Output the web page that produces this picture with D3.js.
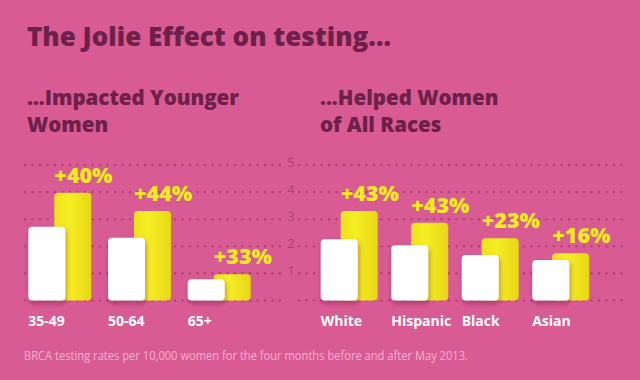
<!DOCTYPE html>
<html><head><meta charset="utf-8">
<script src="https://cdn.jsdelivr.net/npm/d3@7/dist/d3.min.js"></script>
<style>html,body{margin:0;padding:0;background:#d95b93;}svg{display:block;}</style>
</head><body>
<svg id="c" width="640" height="380"></svg>
<script>
// ---- data ----
const ageCategories = ["35-49", "50-64", "65+"];
const ageBefore = [2.72, 2.32, 0.78];
const ageAfter = [3.98, 3.30, 0.97];
const ageChange = ["+40%", "+44%", "+33%"];

const raceCategories = ["White", "Hispanic", "Black", "Asian"];
const raceBefore = [2.26, 2.04, 1.68, 1.49];
const raceAfter = [3.30, 2.87, 2.30, 1.74];
const raceChange = ["+43%", "+43%", "+23%", "+16%"];

const tickValues = [0, 1, 2, 3, 4, 5];
const tickLabels = ["", "1", "2", "3", "4", "5"];

const titleText = "The Jolie Effect on testing...";
const leftSubtitle = ["...Impacted Younger", "Women"];
const rightSubtitle = ["...Helped Women", "of All Races"];
const footerText = "BRCA testing rates per 10,000 women for the four months before and after May 2013.";

// ---- drawing ----
const svg = d3.select("#c");
const bg = "#d95b93", dark = "#6d2049", yellow = "#f4ea1e", gridCol = "#b0447a";
const heading = "'Open Sans', Lato, sans-serif";

svg.append("rect").attr("width", 640).attr("height", 380).attr("fill", bg);

const defs = svg.append("defs");
const f = defs.append("filter").attr("id", "sh").attr("x", "-30%").attr("y", "-30%").attr("width", "160%").attr("height", "160%");
f.append("feDropShadow").attr("dx", 1).attr("dy", 3).attr("stdDeviation", 2.5)
  .attr("flood-color", "#6a1a40").attr("flood-opacity", 0.45);
const g = defs.append("linearGradient").attr("id", "yg").attr("x1", 0).attr("x2", 1).attr("y1", 0).attr("y2", 0);
g.append("stop").attr("offset", "0%").attr("stop-color", "#efe31a");
g.append("stop").attr("offset", "40%").attr("stop-color", "#f6ee24");
g.append("stop").attr("offset", "100%").attr("stop-color", "#e6d716");

const y = d3.scaleLinear().domain([0, 5]).range([300.5, 165]);

// gridlines
const grid = svg.append("g");
tickValues.forEach((v, i) => {
  [[25, 283], [299, 628]].forEach(([a, b]) => {
    grid.append("line").attr("x1", a).attr("x2", b).attr("y1", y(v)).attr("y2", y(v))
      .attr("stroke", gridCol).attr("stroke-width", 2.6).attr("stroke-linecap", "round")
      .attr("stroke-dasharray", "0 7.5");
  });
  grid.append("text").attr("x", 291).attr("y", y(v) + 2).attr("text-anchor", "middle")
    .attr("font-family", "'Open Sans', sans-serif").attr("font-size", 13).attr("font-weight", 400)
    .attr("fill", "#a9447a").text(tickLabels[i]);
});

function panel(cats, before, after, change, x0, step, offset) {
  const x = d3.scaleBand().domain(cats).range([x0, x0 + step * cats.length]).paddingInner(0).paddingOuter(0);
  const bw = 37;
  const gp = svg.append("g");
  const data = cats.map((c, i) => ({c, b: before[i], a: after[i], t: change[i]}));
  gp.selectAll("rect.after").data(data).join("rect").attr("class", "after")
    .attr("x", d => x(d.c) + offset).attr("y", d => y(d.a)).attr("width", bw)
    .attr("height", d => y(0) - y(d.a)).attr("rx", 4).attr("fill", "url(#yg)");
  gp.selectAll("rect.before").data(data).join("rect").attr("class", "before")
    .attr("x", d => x(d.c)).attr("y", d => y(d.b)).attr("width", bw)
    .attr("height", d => y(0) - y(d.b)).attr("rx", 4).attr("fill", "#ffffff").attr("filter", "url(#sh)");
  gp.selectAll("text.pct").data(data).join("text").attr("class", "pct")
    .attr("x", d => x(d.c) + offset).attr("y", d => y(d.a) - 10)
    .attr("font-family", heading).attr("font-weight", 800).attr("font-size", 21.5)
    .attr("fill", yellow).text(d => d.t);
  gp.selectAll("text.cat").data(data).join("text").attr("class", "cat")
    .attr("x", d => x(d.c)).attr("y", 326)
    .attr("font-family", heading).attr("font-weight", 700).attr("font-size", 14)
    .attr("fill", "#ffffff").text(d => d.c);
}
panel(ageCategories, ageBefore, ageAfter, ageChange, 28.3, 79.7, 26);
panel(raceCategories, raceBefore, raceAfter, raceChange, 320.7, 70.5, 20);

// titles
svg.append("text").attr("x", 27).attr("y", 46).attr("font-family", heading).attr("font-weight", 800)
  .attr("font-size", 26).attr("fill", dark).text(titleText);
[[27, leftSubtitle], [320, rightSubtitle]].forEach(([x, lines]) => {
  lines.forEach((l, i) => {
    svg.append("text").attr("x", x).attr("y", 105 + i * 27).attr("font-family", heading).attr("font-weight", 800)
      .attr("font-size", 20.5).attr("fill", dark).text(l);
  });
});
svg.append("text").attr("x", 24).attr("y", 360).attr("font-family", "'Open Sans', sans-serif")
  .attr("font-size", 13.5).attr("fill", "#f3b2d0").attr("textLength", 444).attr("lengthAdjust", "spacingAndGlyphs")
  .text(footerText);
</script>
</body></html>
